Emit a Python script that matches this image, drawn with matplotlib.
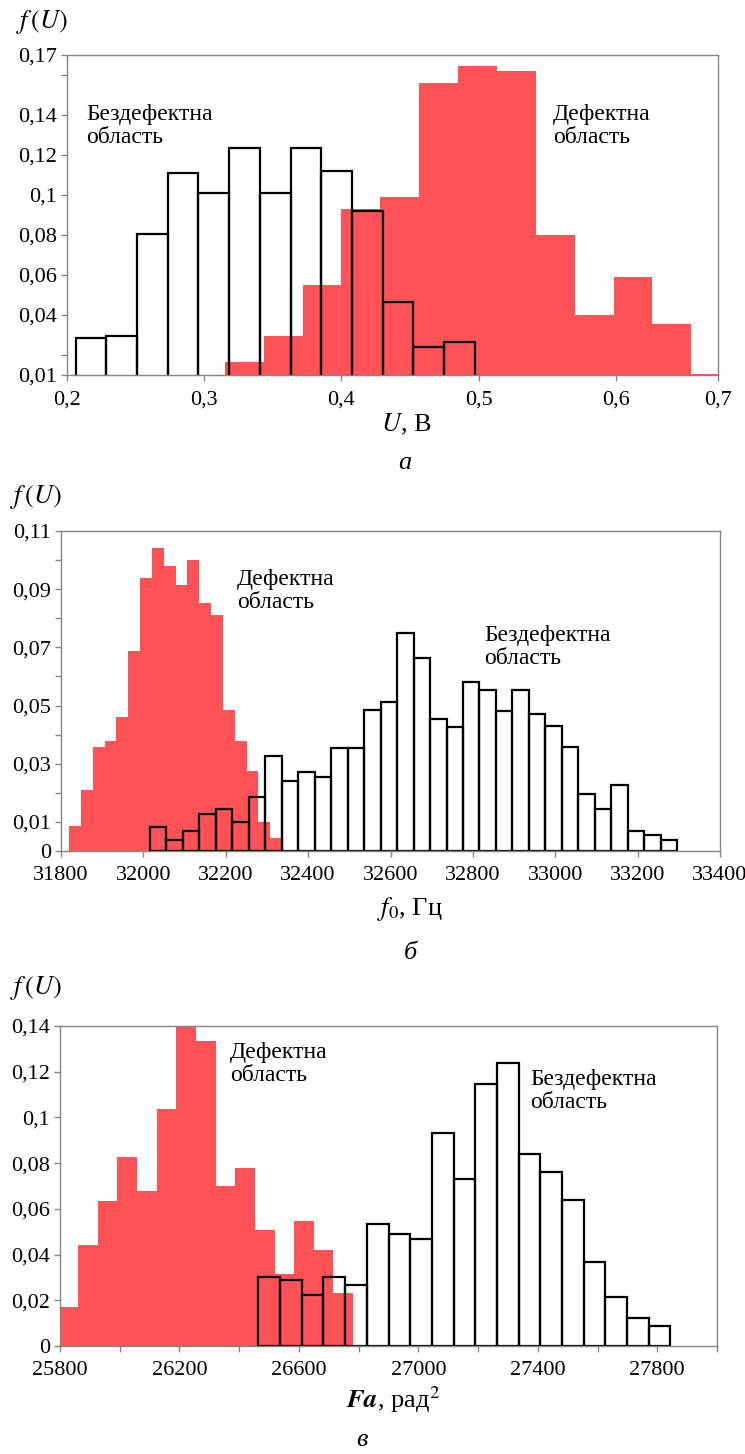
import numpy as np
import matplotlib
matplotlib.use('Agg')
import matplotlib.pyplot as plt

plt.rcParams['font.family'] = ['Liberation Serif', 'DejaVu Serif']
plt.rcParams['mathtext.fontset'] = 'stix'

# ---- panel а: U, B ----
u_good_start, u_good_width = 0.2063, 0.02238
u_good = [0.0283, 0.0297, 0.0807, 0.1108, 0.1008, 0.1235, 0.1008,
          0.1235, 0.112, 0.092, 0.0467, 0.024, 0.0267]
u_bad_start, u_bad_width = 0.3150, 0.02834
u_bad = [0.0167, 0.0295, 0.055, 0.093, 0.0992, 0.1558, 0.1643,
         0.1622, 0.0802, 0.0398, 0.0588, 0.0357, 0.0105]
u_xticks = [0.2, 0.3, 0.4, 0.5, 0.6, 0.6745]
u_xlabels = ['0,2', '0,3', '0,4', '0,5', '0,6', '0,7']
u_yticks = [0.01, 0.02, 0.04, 0.06, 0.08, 0.1, 0.12, 0.14, 0.16, 0.17]
u_ylabels = ['0,01', '', '0,04', '0,06', '0,08', '0,1', '0,12', '0,14', '', '0,17']

# ---- panel б: f0, Гц ----
f_bad_start, f_bad_width = 31819.5, 28.75
f_bad = [0.0087, 0.021, 0.0357, 0.0378, 0.0462, 0.0689, 0.0939, 0.1043, 0.0978,
         0.0916, 0.1001, 0.0854, 0.0812, 0.0486, 0.0378, 0.0276, 0.0101, 0.0043]
f_good_start, f_good_width = 32016, 40
f_good = [0.0083, 0.0039, 0.0069, 0.0126, 0.0143, 0.0099, 0.0185, 0.0326,
          0.0242, 0.0271, 0.0254, 0.0355, 0.0355, 0.0484, 0.0513, 0.0749,
          0.0663, 0.0453, 0.0427, 0.058, 0.0553, 0.0482, 0.0553, 0.0472,
          0.0428, 0.0356, 0.0197, 0.0143, 0.0228, 0.0068, 0.0054, 0.0039]
f_xticks = [31800, 32000, 32200, 32400, 32600, 32800, 33000, 33200, 33400]
f_yticks = [0, 0.01, 0.02, 0.03, 0.04, 0.05, 0.06, 0.07, 0.08, 0.09, 0.10, 0.11]
f_ylabels = ['0', '0,01', '', '0,03', '', '0,05', '', '0,07', '', '0,09', '', '0,11']

# ---- panel в: Fa, рад^2 ----
a_bad_start, a_bad_width = 25794.6, 65.8
a_bad = [0.0169, 0.0444, 0.0635, 0.0825, 0.0676, 0.1038, 0.1396, 0.1334,
         0.0698, 0.0778, 0.0507, 0.0315, 0.0548, 0.0422, 0.0232]
a_good_start, a_good_width = 26464.5, 72.6
a_good = [0.0303, 0.0288, 0.0224, 0.0303, 0.0269, 0.0533, 0.0488, 0.0469,
          0.093, 0.0729, 0.1146, 0.1238, 0.0839, 0.0763, 0.0639, 0.0367,
          0.0213, 0.0122, 0.0087]
a_xticks = [25800, 26000, 26200, 26400, 26600, 26800, 27000, 27200, 27400,
            27600, 27800, 28000]
a_xlabels = ['25800', '', '26200', '', '26600', '', '27000', '', '27400',
             '', '27800', '']
a_yticks = [0, 0.02, 0.04, 0.06, 0.08, 0.1, 0.12, 0.14]
a_ylabels = ['0', '0,02', '0,04', '0,06', '0,08', '0,1', '0,12', '0,14']

RED = '#FF5257'
GRAY = '#858585'
FS = 16      # tick labels
FS_NOTE = 17  # region notes
FS_LAB = 19   # axis labels

W, H = 745, 1454
fig = plt.figure(figsize=(W / 100, H / 100), dpi=100)


def px_axes(left, top, right, bottom):
    return fig.add_axes([left / W, 1 - bottom / H, (right - left) / W, (bottom - top) / H])


def ftext(x, y, s, **kw):
    kw.setdefault('fontsize', FS_NOTE)
    fig.text(x / W, 1 - y / H, s, **kw)


def draw(ax, bad_start, bad_w, bad, good_start, good_w, good):
    bad_x = bad_start + bad_w * np.arange(len(bad))
    good_x = good_start + good_w * np.arange(len(good))
    ax.bar(bad_x, bad, width=bad_w, align='edge', color=RED, linewidth=0, zorder=1)
    ax.bar(good_x, good, width=good_w, align='edge', fill=False,
           edgecolor='black', linewidth=1.6, zorder=2)
    for sp in ax.spines.values():
        sp.set_color(GRAY)
        sp.set_linewidth(1.0)
        sp.set_zorder(3)
    ax.tick_params(direction='out', length=4, width=1, color=GRAY,
                   labelsize=FS)
    ax.tick_params(axis='x', pad=7)
    ax.tick_params(axis='y', pad=3)


# а
ax1 = px_axes(67, 55, 718, 375)
draw(ax1, u_bad_start, u_bad_width, u_bad, u_good_start, u_good_width, u_good)
ax1.set_xlim(0.2, 0.6745)
ax1.set_ylim(0.01, 0.17)
ax1.set_xticks(u_xticks, u_xlabels)
ax1.set_yticks(u_yticks, u_ylabels)
ftext(16, 22, r'$f\,(U)$', va='center', fontsize=FS_LAB)
ftext(86, 104, 'Бездефектна\nобласть', va='top', linespacing=1.1)
ftext(553, 104, 'Дефектна\nобласть', va='top', linespacing=1.1)
ftext(406, 424, r'$U$, В', ha='center', va='center', fontsize=FS_LAB)
ftext(405, 463, 'а', ha='center', va='center', style='italic', fontsize=FS_LAB)

# б
ax2 = px_axes(61, 531, 720, 851)
draw(ax2, f_bad_start, f_bad_width, f_bad, f_good_start, f_good_width, f_good)
ax2.set_xlim(31800, 33400)
ax2.set_ylim(0, 0.11)
ax2.set_xticks(f_xticks, [str(t) for t in f_xticks])
ax2.set_yticks(f_yticks, f_ylabels)
ftext(10, 497, r'$f\,(U)$', va='center', fontsize=FS_LAB)
ftext(237, 569, 'Дефектна\nобласть', va='top', linespacing=1.1)
ftext(484, 625, 'Бездефектна\nобласть', va='top', linespacing=1.1)
ftext(410, 909, r'$f_0$, Гц', ha='center', va='center', fontsize=FS_LAB)
ftext(410, 953, 'б', ha='center', va='center', style='italic', fontsize=FS_LAB)

# в
ax3 = px_axes(60, 1026, 717, 1346)
draw(ax3, a_bad_start, a_bad_width, a_bad, a_good_start, a_good_width, a_good)
ax3.set_xlim(25800, 28000)
ax3.set_ylim(0, 0.14)
ax3.set_xticks(a_xticks, a_xlabels)
ax3.set_yticks(a_yticks, a_ylabels)
ftext(10, 988, r'$f\,(U)$', va='center', fontsize=FS_LAB)
ftext(230, 1042, 'Дефектна\nобласть', va='top', linespacing=1.1)
ftext(530, 1069, 'Бездефектна\nобласть', va='top', linespacing=1.1)
ftext(393, 1400, r'$\mathbfit{Fa}$, рад$^2$', ha='center', va='center', fontsize=FS_LAB)
ftext(362, 1440, 'в', ha='center', va='center', style='italic', fontsize=FS_LAB)

fig.savefig('out.png', dpi=100)
